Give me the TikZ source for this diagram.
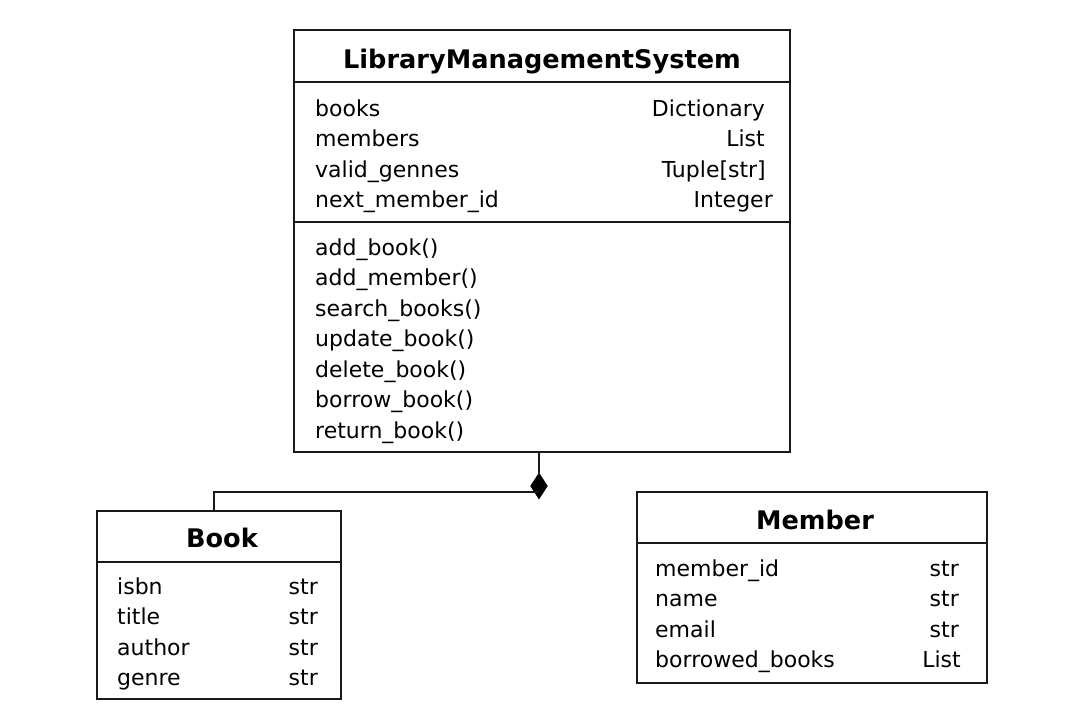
\documentclass[tikz,border=0pt]{standalone}
\usepackage{fontspec}
\setmainfont{DejaVu Sans}
\usetikzlibrary{shapes.geometric}
\begin{document}
\begin{tikzpicture}[x=1pt,y=-1pt,
  box/.style={draw=black!90,line width=1.6pt,inner sep=0pt},
  sep/.style={draw=black!90,line width=1.6pt},
  ttl/.style={anchor=base,inner sep=0pt,font=\fontsize{25.6}{30}\selectfont\bfseries,text=black},
  lt/.style={anchor=base west,inner sep=0pt,font=\fontsize{22}{26}\selectfont,text=black},
  rt/.style={anchor=base east,inner sep=0pt,font=\fontsize{22}{26}\selectfont,text=black},
  conn/.style={draw=black!90,line width=1.6pt}]
\useasboundingbox (0,0) rectangle (1080,720);
% main class
\node[box,minimum width=496pt,minimum height=422pt] (lms) at (542,241) {};
\draw[sep] (294,82) -- (790,82);
\draw[sep] (294,222) -- (790,222);
\node[ttl] (lmst) at (542,68) {LibraryManagementSystem};
\node[lt] (a1) at (315,116) {books};
\node[rt] (t1) at (765,116) {Dictionary};
\node[lt] (a2) at (315,146.5) {members};
\node[rt] (t2) at (765,146.5) {List};
\node[lt] (a3) at (315,177) {valid\_gennes};
\node[rt] (t3) at (766,177) {Tuple[str]};
\node[lt] (a4) at (315,207.5) {next\_member\_id};
\node[rt] (t4) at (773,207.5) {Integer};
\node[lt] (m1) at (315,255) {add\_book()};
\node[lt] (m2) at (315,285.5) {add\_member()};
\node[lt] (m3) at (315,316) {search\_books()};
\node[lt] (m4) at (315,346.5) {update\_book()};
\node[lt] (m5) at (315,377) {delete\_book()};
\node[lt] (m6) at (315,407.5) {borrow\_book()};
\node[lt] (m7) at (315,438) {return\_book()};
% Book
\node[box,minimum width=244pt,minimum height=188pt] (book) at (219,605) {};
\draw[sep] (97,562) -- (341,562);
\node[ttl] (bookt) at (222,547) {Book};
\node[lt] (b1) at (117,594) {isbn};
\node[rt] (bt1) at (318,594) {str};
\node[lt] (b2) at (117,624.5) {title};
\node[rt] (bt2) at (318,624.5) {str};
\node[lt] (b3) at (117,655) {author};
\node[rt] (bt3) at (318,655) {str};
\node[lt] (b4) at (117,685.5) {genre};
\node[rt] (bt4) at (318,685.5) {str};
% Member
\node[box,minimum width=350pt,minimum height=191pt] (mem) at (812,587.5) {};
\draw[sep] (637,543) -- (987,543);
\node[ttl] (memt) at (815,529) {Member};
\node[lt] (c1) at (655,576) {member\_id};
\node[rt] (ct1) at (959,576) {str};
\node[lt] (c2) at (655,606.5) {name};
\node[rt] (ct2) at (959,606.5) {str};
\node[lt] (c3) at (655,637) {email};
\node[rt] (ct3) at (959,637) {str};
\node[lt] (c4) at (655,667.5) {borrowed\_books};
\node[rt] (ct4) at (961,667.5) {List};
% composition
\node[diamond,fill=black,draw=black,line width=0.5pt,inner sep=0pt,minimum width=17pt,minimum height=26pt] (dia) at (539,486) {};
\coordinate (jb) at (214,492);
\draw[conn] (lms.south -| dia.north) -- (dia.north);
\draw[conn] ([yshift=-6pt]dia.center) -- (jb) -- (jb |- book.north);
\end{tikzpicture}
\end{document}
